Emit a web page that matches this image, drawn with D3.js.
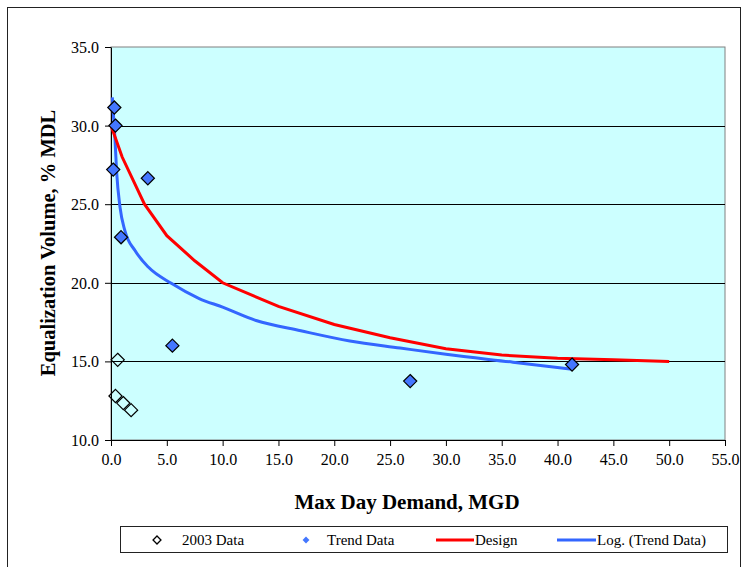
<!doctype html>
<html>
<head>
<meta charset="utf-8">
<script src="https://d3js.org/d3.v7.min.js"></script>
<style>
  body { margin: 0; background: #fff; }
  text { font-family: "Liberation Serif", "Times New Roman", serif; fill: #000; }
</style>
</head>
<body>
<div id="chart"></div>
<script>
// data
var data2003X = [0.6, 0.4, 1.1, 1.8];
var data2003Y = [15.1, 12.8, 12.35, 11.9];

var trendX = [0.3, 0.4, 0.2, 3.3, 0.9, 5.5, 26.8, 41.3];
var trendY = [31.15, 30.0, 27.2, 26.65, 22.9, 16.0, 13.75, 14.8];

var designX = [0, 1, 3, 5, 7.5, 10, 15, 20, 25, 30, 35, 40, 45, 50];
var designY = [30.0, 28.0, 25.0, 23.0, 21.4, 20.0, 18.5, 17.35, 16.5, 15.8, 15.4, 15.2, 15.1, 15.0];

var logX = [0.12, 0.36, 0.51, 0.81, 1.25, 2.15, 3.34, 5.44, 7.9, 10, 13, 17, 21.4, 25.9, 30, 36, 41.3];
var logY = [31.8, 29.1, 27.0, 24.8, 23.3, 22.05, 21.0, 19.95, 19.0, 18.45, 17.6, 16.95, 16.3, 15.85, 15.45, 14.95, 14.5];

var xTicks = [0, 5, 10, 15, 20, 25, 30, 35, 40, 45, 50, 55];
var yTicks = [10, 15, 20, 25, 30, 35];

var legendLabels = ["2003 Data", "Trend Data", "Design", "Log. (Trend Data)"];

var W = 742, H = 567;
var margin = {top: 47, left: 111, right: 17, bottom: 127};
var width = W - margin.left - margin.right,
    height = H - margin.top - margin.bottom;

var svg = d3.select("#chart").append("svg")
    .attr("width", W).attr("height", H);

// outer frame
svg.append("rect")
    .attr("x", 7.5).attr("y", 7.5)
    .attr("width", 733).attr("height", 600)
    .attr("fill", "none").attr("stroke", "#222").attr("stroke-width", 1);

var g = svg.append("g")
    .attr("transform", "translate(" + margin.left + "," + margin.top + ")");

var x = d3.scaleLinear().domain([0, 55]).range([0, width]);
var y = d3.scaleLinear().domain([10, 35]).range([height, 0]);

// plot background
g.append("rect")
    .attr("width", width).attr("height", height)
    .attr("fill", "#CCFFFF")
    .attr("stroke", "#808080");

// gridlines
g.selectAll(".grid")
    .data(yTicks.filter(function(d) { return d > 10 && d < 35; }))
    .enter().append("line")
    .attr("x1", 0).attr("x2", width)
    .attr("y1", function(d) { return Math.round(y(d)) + 0.5; })
    .attr("y2", function(d) { return Math.round(y(d)) + 0.5; })
    .attr("stroke", "#000").attr("stroke-width", 1);

// axes
var xAxis = g.append("g")
    .attr("transform", "translate(0," + height + ")")
    .call(d3.axisBottom(x).tickValues(xTicks).tickSize(6).tickSizeOuter(0)
        .tickFormat(d3.format(".1f")));
var yAxis = g.append("g")
    .call(d3.axisLeft(y).tickValues(yTicks).tickSize(6).tickSizeOuter(0)
        .tickFormat(d3.format(".1f")));

[xAxis, yAxis].forEach(function(a) {
    a.selectAll("path, line").attr("stroke", "#000");
    a.selectAll("text")
        .style("font-family", '"Liberation Serif", "Times New Roman", serif')
        .style("font-size", "16px").attr("fill", "#000");
});
xAxis.selectAll("text").attr("y", 14).attr("dy", "0.71em");
yAxis.selectAll("text").attr("x", -12).attr("dy", "0.34em");

// lines
var line = d3.line()
    .x(function(d) { return x(d[0]); })
    .y(function(d) { return y(d[1]); });

var design = designX.map(function(d, i) { return [d, designY[i]]; });
var logTrend = logX.map(function(d, i) { return [d, logY[i]]; });

g.append("path")
    .datum(logTrend)
    .attr("d", line.curve(d3.curveMonotoneX))
    .attr("fill", "none").attr("stroke", "#3366FF").attr("stroke-width", 3);

g.append("path")
    .datum(design)
    .attr("d", line.curve(d3.curveLinear))
    .attr("fill", "none").attr("stroke", "#FF0000").attr("stroke-width", 3);

// markers
var diamond = d3.symbol().type(d3.symbolDiamond2).size(110);

g.selectAll(".p2003")
    .data(data2003X.map(function(d, i) { return [d, data2003Y[i]]; }))
    .enter().append("path")
    .attr("d", diamond)
    .attr("transform", function(d) { return "translate(" + x(d[0]) + "," + y(d[1]) + ")"; })
    .attr("fill", "none").attr("stroke", "#000").attr("stroke-width", 1.2);

g.selectAll(".ptrend")
    .data(trendX.map(function(d, i) { return [d, trendY[i]]; }))
    .enter().append("path")
    .attr("d", diamond)
    .attr("transform", function(d) { return "translate(" + x(d[0]) + "," + y(d[1]) + ")"; })
    .attr("fill", "#4477FF").attr("stroke", "#000").attr("stroke-width", 1.2);

// axis titles
svg.append("text")
    .attr("x", 407).attr("y", 509)
    .attr("text-anchor", "middle")
    .style("font-size", "21px").style("font-weight", "bold")
    .text("Max Day Demand, MGD");

svg.append("text")
    .attr("transform", "translate(55,243) rotate(-90)")
    .attr("text-anchor", "middle")
    .style("font-size", "20.5px").style("font-weight", "bold")
    .text("Equalization Volume, % MDL");

// legend
var legend = svg.append("g");
legend.append("rect")
    .attr("x", 120.5).attr("y", 526.5)
    .attr("width", 607).attr("height", 26)
    .attr("fill", "#fff").attr("stroke", "#222");

var ly = 540;
var smallDiamond = d3.symbol().type(d3.symbolDiamond2).size(40);
legend.append("path").attr("d", smallDiamond)
    .attr("transform", "translate(157," + ly + ")")
    .attr("fill", "none").attr("stroke", "#000").attr("stroke-width", 1.3);
legend.append("path").attr("d", d3.symbol().type(d3.symbolDiamond2).size(30))
    .attr("transform", "translate(306," + ly + ")")
    .attr("fill", "#4477FF");
legend.append("line")
    .attr("x1", 436).attr("x2", 474).attr("y1", ly).attr("y2", ly)
    .attr("stroke", "#FF0000").attr("stroke-width", 3);
legend.append("line")
    .attr("x1", 557).attr("x2", 596).attr("y1", ly).attr("y2", ly)
    .attr("stroke", "#3366FF").attr("stroke-width", 3);

var lx = [182, 327, 475, 597];
legend.selectAll(".lt")
    .data(legendLabels)
    .enter().append("text")
    .attr("x", function(d, i) { return lx[i]; })
    .attr("y", ly + 5)
    .style("font-size", "15px")
    .text(function(d) { return d; });
</script>
</body>
</html>
